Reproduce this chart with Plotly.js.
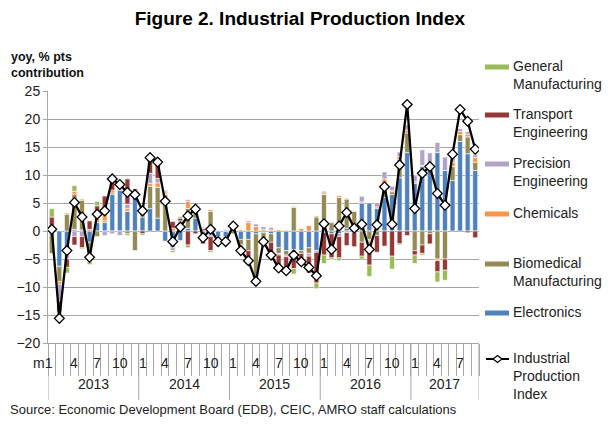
<!DOCTYPE html>
<html>
<head>
<meta charset="utf-8">
<script src="https://cdn.plot.ly/plotly-3.0.1.min.js"></script>
<style>html,body{margin:0;padding:0;background:#fff;}#chart{width:612px;height:428px;}</style>
</head>
<body>
<div id="chart"></div>
<script>
// ---- DATA (Jan 2013 .. Sep 2017, yoy % pts contribution) ----
const years = ['2013', '2014', '2015', '2016', '2017'];
const monthsPerYear = [12, 12, 12, 12, 9];
const monthLabels = [
  'm1','','','4','','','7','','','10','','',
  '1','','','4','','','7','','','10','','',
  '1','','','4','','','7','','','10','','',
  '1','','','4','','','7','','','10','','',
  '1','','','4','','','7','',''
];
const electronics = [
  0.5,-6.3,-4.0,0.3,0.2,-2.0,1.5,1.5,6.5,7.3,3.5,6.5,
  2.5,4.0,2.3,-1.8,-1.5,-1.7,0.5,2.3,-0.5,-0.7,-1.0,-1.0,
  0.5,-1.5,-1.5,-0.5,-0.3,-0.5,-3.0,-3.5,-3.3,-3.5,-3.0,-3.5,
  -0.3,-0.5,-0.5,0.5,0.5,5.0,5.0,4.0,6.0,6.5,9.5,14.0,
  8.5,11.5,12.0,14.0,10.8,9.0,16.0,13.8,10.8
];
const biomedical = [
  -4.0,-2.7,3.0,6.3,5.3,-2.0,-1.0,0.3,0.3,0.2,-0.5,-3.5,
  1.5,4.0,5.5,6.5,-1.5,1.0,3.5,1.0,0.5,3.5,-0.5,-0.8,
  -0.5,-1.0,-2.0,-8.0,-1.0,-1.5,-1.0,-0.8,4.2,-0.5,-1.0,2.5,
  6.5,1.5,6.0,5.2,3.0,-2.0,-1.5,-0.8,2.5,0.5,3.3,3.5,
  -3.5,-2.5,-0.5,-5.0,-5.0,2.5,1.2,3.0,1.5
];
const chemicals = [
  0.3,-0.5,0.2,0.5,0.2,0.3,1.2,2.5,0.5,0.3,0.5,0.5,
  0.3,0.5,0.8,0.3,0.5,0.3,1.3,0.3,0.2,0.3,0.2,0.0,
  0.3,0.3,1.5,0.8,0.3,0.2,0.3,0.2,0.2,0.5,1.0,0.2,
  0.3,0.0,0.3,0.2,0.2,0.2,-0.3,0.3,0.8,0.2,0.5,0.5,
  0.3,0.2,0.2,-0.3,0.0,0.8,0.6,0.5,0.8
];
const precision = [
  0.2,-3.0,-1.0,-1.0,-1.0,-1.5,0.3,-0.8,-0.5,-0.8,0.8,0.3,
  0.3,1.8,0.8,0.3,-0.5,0.5,0.3,0.3,-0.3,-0.3,0.0,0.3,
  0.5,-0.3,0.3,0.5,0.5,0.5,-0.3,-0.3,-0.4,0.0,-0.5,-0.3,
  0.3,0.2,-0.5,-0.3,-0.3,1.0,-0.8,0.8,1.3,0.8,0.8,1.0,
  1.2,2.8,1.8,1.8,2.4,0.8,0.5,0.5,0.5
];
const transport = [
  1.5,-2.0,-1.5,-1.5,-2.0,1.5,1.5,2.0,1.5,0.5,4.5,0.3,
  -0.5,2.8,2.5,0.2,1.2,0.5,-2.5,-0.5,-1.5,-2.5,-0.5,-0.5,
  0.3,-1.0,-1.5,-0.5,-1.3,-2.5,-2.5,-2.5,-3.0,-2.0,-3.0,-5.5,
  -4.0,-4.3,-3.8,-2.3,-2.5,-2.5,-3.5,-3.0,-2.7,-4.5,-2.3,-0.8,
  -0.8,-1.5,-1.8,-2.0,-2.0,0.3,0.0,-0.3,-1.2
];
const general = [
  1.5,-1.0,-1.0,1.0,-0.2,-0.5,0.8,0.0,0.3,0.0,-0.3,0.0,
  -0.3,0.0,0.3,0.0,-0.3,0.3,-0.5,0.2,0.0,-0.3,0.0,0.0,
  0.0,0.0,-0.3,0.0,0.0,0.0,0.0,0.0,-1.0,0.0,0.0,-1.0,
  -1.5,-0.3,-0.5,0.0,0.0,-0.5,-2.0,0.0,0.0,-2.3,-0.2,0.0,
  -1.5,-0.3,0.0,-1.8,-1.8,0.3,0.0,0.0,0.3
];
const ipi = [
  0.3,-15.6,-3.5,5.1,2.5,-4.7,3.0,3.6,9.3,8.3,6.9,6.5,
  3.6,13.1,12.3,5.3,-1.9,0.7,2.7,3.9,-1.2,0.3,-1.9,-1.9,
  0.9,-3.5,-5.3,-9.0,-1.9,-4.3,-6.6,-7.1,-4.3,-5.5,-6.5,-8.0,
  1.3,-3.3,0.9,3.3,0.5,1.2,-3.3,1.1,7.9,1.2,11.8,22.6,
  4.0,10.3,11.5,6.7,4.6,13.7,21.7,19.6,14.6
];
const seriesNames = ['Electronics','Biomedical Manufacturing','Chemicals','Precision Engineering','Transport Engineering','General Manufacturing'];
const seriesLegend = ['Electronics','Biomedical<br>Manufacturing','Chemicals','Precision<br>Engineering','Transport<br>Engineering','General<br>Manufacturing'];
const seriesColors = ['#4F81BD','#948A54','#F79646','#B3A2C7','#953735','#9BBB59'];
const seriesData = [electronics, biomedical, chemicals, precision, transport, general];
const lineName = 'Industrial<br>Production<br>Index';

// ---- LAYOUT GEOMETRY (pixels) ----
const W = 612, H = 428;
const PL = 48, PR = 479, PT = 91, PB = 343;
const px2x = p => (p - PL) / (PR - PL);
const py2y = p => (PB - p) / (PB - PT);
const FONT = 'Liberation Sans, Arial, Helvetica, sans-serif';

const idx = ipi.map((_, i) => i);
const traces = seriesData.map((d, k) => ({
  type: 'bar', x: idx, y: d, name: seriesNames[k],
  marker: {color: seriesColors[k], line: {color: '#ffffff', width: 0.6}},
  showlegend: false, hoverinfo: 'skip'
}));
traces.push({
  type: 'scatter', mode: 'lines+markers', x: idx, y: ipi, name: 'Industrial Production Index',
  line: {color: '#000000', width: 2.3},
  marker: {symbol: 'diamond', size: 7.5, color: '#ffffff', line: {color: '#000000', width: 1.3}},
  showlegend: false, hoverinfo: 'skip'
});

const n = ipi.length;
const boundaries = [];
for (let i = 0; i <= n; i++) boundaries.push(i - 0.5);

const annotations = [];
const shapes = [];
// month labels
monthLabels.forEach((t, i) => {
  if (!t) return;
  const first = t.startsWith('m');
  annotations.push({
    x: first ? i + 0.42 : i, xref: 'x', xanchor: first ? 'right' : 'center',
    y: py2y(363), yref: 'paper', yanchor: 'middle',
    text: t, showarrow: false, font: {family: FONT, size: 14, color: '#222'}
  });
});
// year labels and separators
let start = 0;
years.forEach((y, k) => {
  const m = monthsPerYear[k];
  annotations.push({
    x: start + (m - 1) / 2, xref: 'x', y: py2y(384), yref: 'paper', yanchor: 'middle',
    text: y, showarrow: false, font: {family: FONT, size: 14, color: '#222'}
  });
  shapes.push({type: 'line', xref: 'x', yref: 'paper', x0: start - 0.5, x1: start - 0.5,
    y0: 0, y1: py2y(400), line: {color: '#a6a6a6', width: 1}});
  start += m;
});
shapes.push({type: 'line', xref: 'x', yref: 'paper', x0: start - 0.5, x1: start - 0.5,
  y0: 0, y1: py2y(400), line: {color: '#a6a6a6', width: 1}});

// custom legend (top-to-bottom: reverse of series order, then the line)
const legendY = [313, 264, 214, 164, 115, 67]; // pixel rows for swatches by series index
const textX = 511;
seriesData.forEach((d, k) => {
  const yc = legendY[k];
  shapes.push({type: 'rect', xref: 'paper', yref: 'paper',
    x0: px2x(485), x1: px2x(509), y0: py2y(yc - 2.5), y1: py2y(yc + 2.5),
    fillcolor: seriesColors[k], line: {width: 0}});
  annotations.push({
    x: px2x(textX), xref: 'paper', xanchor: 'left', y: py2y(yc - 11), yref: 'paper', yanchor: 'top',
    text: seriesLegend[k], align: 'left', showarrow: false,
    font: {family: FONT, size: 14, color: '#222'}
  });
});
// line legend
shapes.push({type: 'line', xref: 'paper', yref: 'paper', x0: px2x(486), x1: px2x(509),
  y0: py2y(359), y1: py2y(359), line: {color: '#000', width: 2}});
shapes.push({type: 'path', xref: 'paper', yref: 'paper',
  path: `M ${px2x(493)} ${py2y(359)} L ${px2x(497.5)} ${py2y(355.5)} L ${px2x(502)} ${py2y(359)} L ${px2x(497.5)} ${py2y(362.5)} Z`,
  fillcolor: '#fff', line: {color: '#000', width: 1.2}});
annotations.push({
  x: px2x(textX), xref: 'paper', xanchor: 'left', y: py2y(348), yref: 'paper', yanchor: 'top',
  text: lineName, align: 'left', showarrow: false, font: {family: FONT, size: 14, color: '#222'}
});
// y axis title
annotations.push({
  x: px2x(9), xref: 'paper', xanchor: 'left', y: py2y(48), yref: 'paper', yanchor: 'top',
  text: '<b>yoy, % pts<br>contribution</b>', align: 'left', showarrow: false,
  font: {family: FONT, size: 12.5, color: '#111'}
});
// source
annotations.push({
  x: px2x(8), xref: 'paper', xanchor: 'left', y: py2y(409), yref: 'paper', yanchor: 'middle',
  text: 'Source: Economic Development Board (EDB), CEIC, AMRO staff calculations', showarrow: false,
  font: {family: FONT, size: 13, color: '#222'}
});

const layout = {
  width: W, height: H,
  margin: {l: PL, r: W - PR, t: PT, b: H - PB, pad: 0},
  paper_bgcolor: '#fff', plot_bgcolor: '#fff',
  barmode: 'relative', bargap: 0.35,
  title: {text: '<b>Figure 2. Industrial Production Index</b>', x: 0.49, xanchor: 'center',
    y: 1 - 18 / H, yanchor: 'middle', font: {family: FONT, size: 19, color: '#000'}},
  xaxis: {
    range: [-0.5, n - 0.5], tickvals: boundaries, ticktext: boundaries.map(() => ''),
    ticks: 'outside', ticklen: 32, tickcolor: '#a6a6a6', tickwidth: 1,
    showticklabels: false, showgrid: false, zeroline: false,
    showline: true, linecolor: '#a6a6a6', linewidth: 1, fixedrange: true
  },
  yaxis: {
    range: [-20, 25], dtick: 5, tick0: 0,
    showgrid: true, gridcolor: '#a6a6a6', gridwidth: 1,
    zeroline: true, zerolinecolor: '#a6a6a6', zerolinewidth: 1,
    showline: true, linecolor: '#a6a6a6', linewidth: 1,
    ticks: 'outside', ticklen: 4, tickcolor: '#a6a6a6',
    tickfont: {family: FONT, size: 14, color: '#222'}, fixedrange: true
  },
  showlegend: false,
  annotations: annotations, shapes: shapes
};
Plotly.newPlot('chart', traces, layout, {displayModeBar: false, staticPlot: true});
</script>
</body>
</html>
